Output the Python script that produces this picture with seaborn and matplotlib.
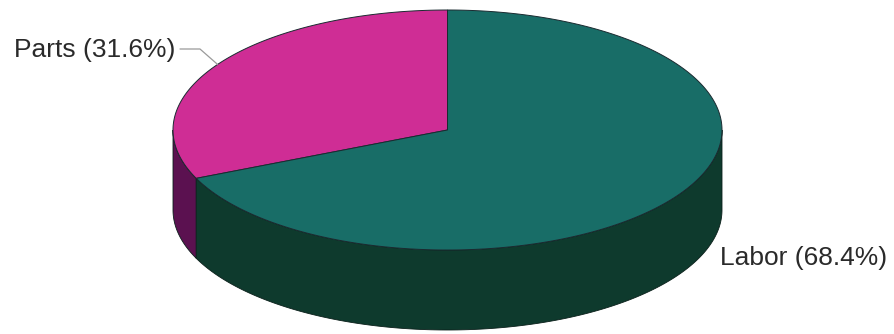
import numpy as np
import matplotlib
matplotlib.use("Agg")
import matplotlib.pyplot as plt
from matplotlib.patches import Polygon
import seaborn as sns

# Cost breakdown
categories = ["Parts", "Labor"]
shares = [31.6, 68.4]
label_texts = ["Parts (31.6%)", "Labor (68.4%)"]

top_colors = ["#cf2d95", "#186d67"]
side_colors = ["#5b1150", "#0e3a2d"]

sns.set_theme(style="white")
plt.rcParams["font.family"] = ["Liberation Sans", "DejaVu Sans"]

W, H = 894, 334
fig = plt.figure(figsize=(W / 100, H / 100), dpi=100)
ax = fig.add_axes([0, 0, 1, 1])
ax.set_xlim(0, W)
ax.set_ylim(H, 0)
ax.axis("off")

# ellipse geometry of the disc (screen pixels)
cx, cy = 447.5, 130.0
rx, ry = 274.5, 120.0
depth = 80.0


def rim(t_deg, dy=0.0):
    t = np.radians(t_deg)
    return np.column_stack([cx + rx * np.cos(t), cy - ry * np.sin(t) + dy])


# slice angles, counter-clockwise starting at 12 o'clock
sizes = np.array(shares) / np.sum(shares) * 360.0
starts = 90.0 + np.concatenate([[0.0], np.cumsum(sizes)[:-1]])
ends = starts + sizes

# outer walls (front half only)
for s, e, col in zip(starts, ends, side_colors):
    for lo, hi in [(180.0, 360.0), (540.0, 720.0)]:
        a, b = max(s, lo), min(e, hi)
        if b <= a:
            continue
        ts = np.linspace(a, b, 200)
        pts = np.vstack([rim(ts), rim(ts[::-1], depth)])
        ax.add_patch(Polygon(pts, closed=True, facecolor=col,
                             edgecolor="#0a1f1a", linewidth=0.6, zorder=1))

# top faces
for s, e, col in zip(starts, ends, top_colors):
    ts = np.linspace(s, e, 300)
    pts = np.vstack([[cx, cy], rim(ts)])
    ax.add_patch(Polygon(pts, closed=True, facecolor=col,
                         edgecolor="#1a2a30", linewidth=0.7, zorder=2))

# labels
mids = (starts + ends) / 2.0
# Parts: leader line to the rim
p = rim(mids[0])[0]
ax.plot([180, 200, p[0]], [49, 49, p[1]], color="#9a9a9a", lw=0.9, zorder=3)
ax.text(175, 50, label_texts[0], ha="right", va="center",
        fontsize=19, color="#2a2a2a", zorder=4)
# Labor: beside the front wall
q = rim(mids[1])[0]
ax.text(q[0] + 43, q[1] + 62, label_texts[1], ha="left", va="center",
        fontsize=19, color="#2a2a2a", zorder=4)

fig.savefig("out.png", dpi=100, facecolor="white")
